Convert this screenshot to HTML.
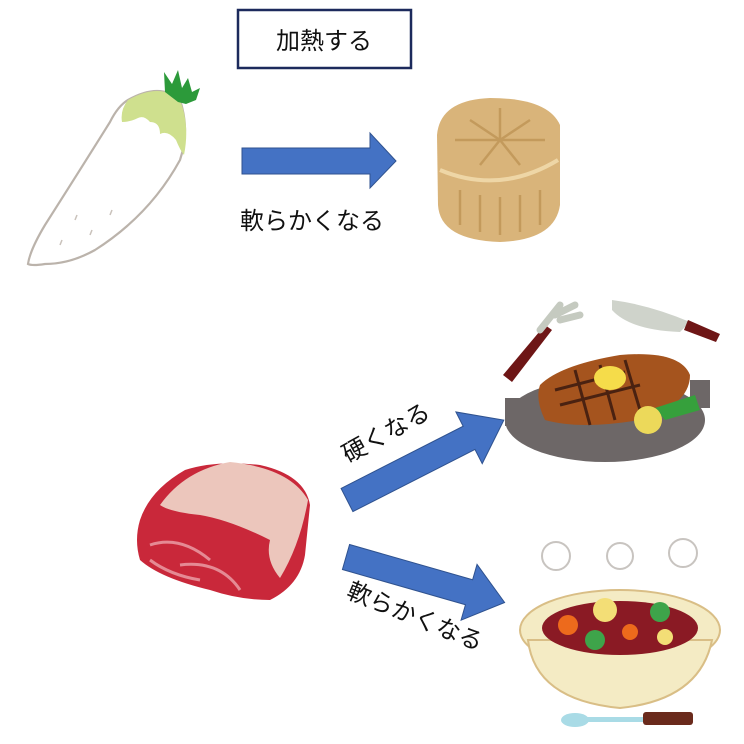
<!DOCTYPE html>
<html><head><meta charset="utf-8"><style>
html,body{margin:0;padding:0;background:#fff;}
svg{display:block}
text{font-family:"Liberation Sans","Noto Sans CJK JP",sans-serif;fill:#111;}
</style></head><body>
<svg width="744" height="744" viewBox="0 0 744 744">
<!-- box -->
<rect x="238" y="10" width="173" height="58" fill="#fff" stroke="#1c2a5c" stroke-width="2.5"/>
<text x="324" y="49" font-size="24" text-anchor="middle">加熱する</text>

<!-- daikon -->
<path d="M128,100 Q160,82 180,100 Q190,130 180,160 Q150,215 95,250 Q70,264 45,264 Q32,266 28,264 Q30,250 45,225 Q80,170 110,122 Q118,106 128,100 Z" fill="#fff" stroke="#bbb3ab" stroke-width="2.2"/>
<path d="M128,100 Q160,82 180,100 Q190,125 184,155 Q180,150 176,140 Q168,130 160,134 Q160,122 150,122 Q144,115 138,118 Q130,122 122,122 Q120,110 128,100 Z" fill="#cfe08e"/>
<path d="M165,92 L164,72 L172,84 L178,70 L182,88 L188,78 L192,92 L200,88 L196,100 L186,104 L178,102 Z" fill="#2c9a3a"/>
<g stroke="#c9c2bb" stroke-width="1.5"><line x1="90" y1="235" x2="92" y2="230"/><line x1="75" y1="220" x2="77" y2="215"/><line x1="110" y1="215" x2="112" y2="210"/><line x1="60" y1="245" x2="62" y2="240"/></g>

<!-- top arrow -->
<polygon points="242,148 370,148 370,133 396,161 370,188 370,174 242,174" fill="#4472c4" stroke="#2f528f" stroke-width="1"/>
<text x="240" y="229" font-size="24">軟らかくなる</text>

<!-- radish slice -->
<path d="M437,135 Q440,100 490,98 Q548,98 560,125 L560,205 Q555,240 500,242 Q440,240 438,205 Z" fill="#d9b47a"/>
<path d="M440,170 Q500,195 558,160" fill="none" stroke="#eed6a6" stroke-width="4"/>
<g stroke="#c39a5c" stroke-width="2.5">
<line x1="500" y1="140" x2="500" y2="108"/><line x1="500" y1="140" x2="530" y2="120"/><line x1="500" y1="140" x2="470" y2="120"/><line x1="500" y1="140" x2="545" y2="140"/><line x1="500" y1="140" x2="455" y2="140"/><line x1="500" y1="140" x2="520" y2="165"/><line x1="500" y1="140" x2="480" y2="165"/>
<line x1="460" y1="190" x2="460" y2="225"/><line x1="480" y1="195" x2="480" y2="232"/><line x1="500" y1="197" x2="500" y2="235"/><line x1="520" y1="195" x2="520" y2="232"/><line x1="540" y1="190" x2="540" y2="225"/></g>

<!-- meat -->
<path d="M140,520 Q150,490 185,470 Q215,460 260,465 Q305,475 310,505 L305,555 Q300,585 270,600 Q240,600 210,590 Q160,578 140,560 Q134,540 140,520 Z" fill="#c9283a"/>
<path d="M160,505 Q185,470 230,462 Q290,468 308,500 Q300,545 280,578 Q265,560 270,540 Q230,520 200,515 Q170,512 160,505 Z" fill="#ecc6bc"/>
<path d="M150,545 Q180,535 210,560 M180,565 Q220,560 240,590 M150,560 Q170,575 200,580" stroke="#e58a94" stroke-width="3" fill="none"/>

<!-- upper arrow -->
<g transform="translate(347,500) rotate(-27)">
<polygon points="0,-13 137,-13 137,-29 176,0 137,29 137,13 0,13" fill="#4472c4" stroke="#2f528f" stroke-width="1"/>
</g>
<text transform="translate(390,440) rotate(-29)" font-size="24" text-anchor="middle">硬くなる</text>

<!-- lower arrow -->
<g transform="translate(346,557) rotate(16)">
<polygon points="0,-13 128,-13 128,-29 165,0 128,29 128,13 0,13" fill="#4472c4" stroke="#2f528f" stroke-width="1"/>
</g>
<text transform="translate(412,624) rotate(22)" font-size="24" text-anchor="middle">軟らかくなる</text>

<!-- steak -->
<polygon points="503,375 545,325 552,330 512,382" fill="#6e1616"/>
<path d="M540,330 L560,305 M555,315 L575,305 M560,320 L580,315" stroke="#c5cac0" stroke-width="7" stroke-linecap="round"/>
<path d="M612,300 Q650,305 690,322 L680,332 Q630,330 612,310 Z" fill="#cfd3cb"/>
<polygon points="688,320 720,334 716,342 684,330" fill="#6e1616"/>
<ellipse cx="605" cy="420" rx="100" ry="42" fill="#6d6767"/>
<rect x="505" y="398" width="20" height="28" fill="#6d6767"/>
<rect x="690" y="380" width="20" height="28" fill="#6d6767"/>
<path d="M540,385 Q560,365 620,355 Q680,350 690,375 Q690,405 640,420 Q580,430 545,420 Q535,400 540,385 Z" fill="#a5541e"/>
<path d="M555,390 L625,372 M560,405 L640,385 M575,370 L590,425 M600,365 L615,420 M625,360 L640,410" stroke="#4a2211" stroke-width="3"/>
<ellipse cx="610" cy="378" rx="16" ry="12" fill="#f5dc4a"/>
<path d="M655,408 L695,395 L700,410 L665,420 Z" fill="#36a03c"/>
<circle cx="648" cy="420" r="14" fill="#ecd95a"/>

<!-- stew -->
<g fill="#fff" stroke="#c8c4c0" stroke-width="2">
<circle cx="556" cy="556" r="14"/><circle cx="620" cy="556" r="13"/><circle cx="683" cy="553" r="14"/></g>
<ellipse cx="620" cy="630" rx="100" ry="40" fill="#f4ebc4" stroke="#d9be86" stroke-width="2"/>
<path d="M528,640 Q535,700 620,708 Q700,700 712,640 Z" fill="#f4ebc4" stroke="#d9be86" stroke-width="2"/>
<ellipse cx="620" cy="628" rx="78" ry="27" fill="#8a1a24"/>
<circle cx="605" cy="610" r="12" fill="#f3de76"/>
<circle cx="660" cy="612" r="10" fill="#3ea44a"/>
<circle cx="568" cy="625" r="10" fill="#ed6a1c"/>
<circle cx="595" cy="640" r="10" fill="#3ea44a"/>
<circle cx="630" cy="632" r="8" fill="#ed6a1c"/>
<circle cx="665" cy="637" r="8" fill="#f3de76"/>
<ellipse cx="575" cy="720" rx="14" ry="7" fill="#a9dbe6"/>
<rect x="585" y="717" width="60" height="5" fill="#a9dbe6"/>
<rect x="643" y="712" width="50" height="13" rx="3" fill="#6a2a1c"/>
</svg>
</body></html>
